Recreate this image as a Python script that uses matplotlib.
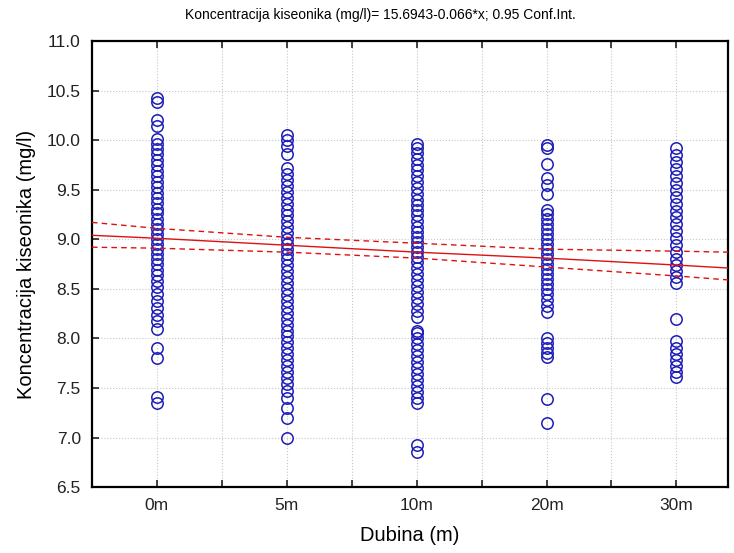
import numpy as np
import matplotlib.pyplot as plt
from matplotlib.ticker import MultipleLocator

plt.rcParams['font.family'] = ['Liberation Sans', 'DejaVu Sans']

# depth categories
depths = ['0m', '5m', '10m', '20m', '30m']

# oxygen concentration values, one list per depth
o2_0m = [10.42, 10.38, 10.20, 10.14, 10.01, 9.96, 9.91, 9.86, 9.80, 9.75, 9.69, 9.64,
         9.58, 9.53, 9.47, 9.42, 9.37, 9.31, 9.26, 9.20, 9.15, 9.10, 9.05, 9.00, 8.95,
         8.90, 8.85, 8.80, 8.75, 8.69, 8.64, 8.58, 8.52, 8.45, 8.38, 8.31, 8.24, 8.18,
         8.10, 7.90, 7.80, 7.41, 7.35]
o2_5m = [10.05, 10.00, 9.94, 9.86, 9.72, 9.66, 9.60, 9.54, 9.48, 9.42, 9.36, 9.30, 9.24,
         9.18, 9.12, 9.06, 9.00, 8.95, 8.90, 8.85, 8.80, 8.74, 8.68, 8.62, 8.56, 8.50,
         8.44, 8.38, 8.32, 8.26, 8.20, 8.14, 8.08, 8.02, 7.96, 7.90, 7.84, 7.78, 7.72,
         7.66, 7.60, 7.54, 7.47, 7.40, 7.30, 7.20, 7.00]
o2_10m = [9.96, 9.92, 9.87, 9.81, 9.75, 9.70, 9.64, 9.58, 9.52, 9.46, 9.40, 9.35, 9.30,
          9.24, 9.18, 9.12, 9.07, 9.02, 8.97, 8.92, 8.87, 8.82, 8.77, 8.71, 8.65, 8.59,
          8.53, 8.47, 8.41, 8.35, 8.28, 8.22, 8.08, 8.05, 8.00, 7.94, 7.88, 7.82, 7.76,
          7.70, 7.64, 7.58, 7.52, 7.46, 7.40, 7.35, 6.93, 6.85]
o2_20m = [9.95, 9.92, 9.76, 9.62, 9.55, 9.46, 9.30, 9.25, 9.20, 9.15, 9.10, 9.05, 9.00,
          8.95, 8.90, 8.85, 8.80, 8.75, 8.70, 8.65, 8.60, 8.55, 8.50, 8.45, 8.39, 8.33,
          8.27, 8.00, 7.95, 7.90, 7.85, 7.81, 7.39, 7.15]
o2_30m = [9.92, 9.85, 9.78, 9.71, 9.64, 9.57, 9.50, 9.43, 9.36, 9.29, 9.22, 9.15, 9.08,
          9.01, 8.94, 8.87, 8.80, 8.74, 8.68, 8.62, 8.56, 8.20, 7.97, 7.90, 7.84, 7.78,
          7.72, 7.66, 7.61]

# regression line and 0.95 confidence band, read at these category positions
fit_x = [0.5, 1, 2, 3, 4, 5, 5.4]
fit_y = [9.04, 9.01, 8.94, 8.87, 8.81, 8.74, 8.71]
conf_hi = [9.17, 9.11, 9.02, 8.96, 8.90, 8.88, 8.87]
conf_lo = [8.92, 8.91, 8.87, 8.81, 8.72, 8.63, 8.59]

fig = plt.figure(figsize=(7.34, 5.53), dpi=100)
ax = fig.add_axes([0.1253, 0.119, 0.867, 0.807])

for i, vals in enumerate([o2_0m, o2_5m, o2_10m, o2_20m, o2_30m]):
    ax.plot([i + 1] * len(vals), vals, 'o', mfc='none', mec='#1c1cb8', ms=8.2, mew=1.1,
            zorder=3)

ax.plot(fit_x, fit_y, color='#e01010', lw=1.0, zorder=4)
ax.plot(fit_x, conf_hi, color='#e01010', lw=1.0, ls=(0, (4, 3)), zorder=4)
ax.plot(fit_x, conf_lo, color='#e01010', lw=1.0, ls=(0, (4, 3)), zorder=4)

ax.set_xlim(0.5, 5.4)
ax.set_ylim(6.5, 11.0)
ax.set_xticks(range(1, 6))
ax.set_xticklabels(depths)
ax.xaxis.set_minor_locator(MultipleLocator(0.5))
ax.yaxis.set_major_locator(MultipleLocator(0.5))
ax.yaxis.set_major_formatter(plt.FormatStrFormatter('%.1f'))

ax.grid(True, which='both', axis='x', color='#c8c8c8', ls=':', lw=0.8)
ax.grid(True, which='major', axis='y', color='#c8c8c8', ls=':', lw=0.8)
ax.set_axisbelow(True)

ax.tick_params(which='both', direction='in', top=True, length=5, width=1.2,
               labelsize=12.5, pad=8, colors='#222222')
for s in ax.spines.values():
    s.set_linewidth(1.6)

ax.set_xlabel('Dubina (m)', fontsize=14.5, labelpad=9)
ax.set_ylabel('Koncentracija kiseonika (mg/l)', fontsize=14.5, labelpad=8)
fig.text(380 / 734, 1 - 15 / 553,
         'Koncentracija kiseonika (mg/l)= 15.6943-0.066*x; 0.95 Conf.Int.',
         fontsize=10, ha='center', va='center')

fig.savefig('out.png', dpi=100)
